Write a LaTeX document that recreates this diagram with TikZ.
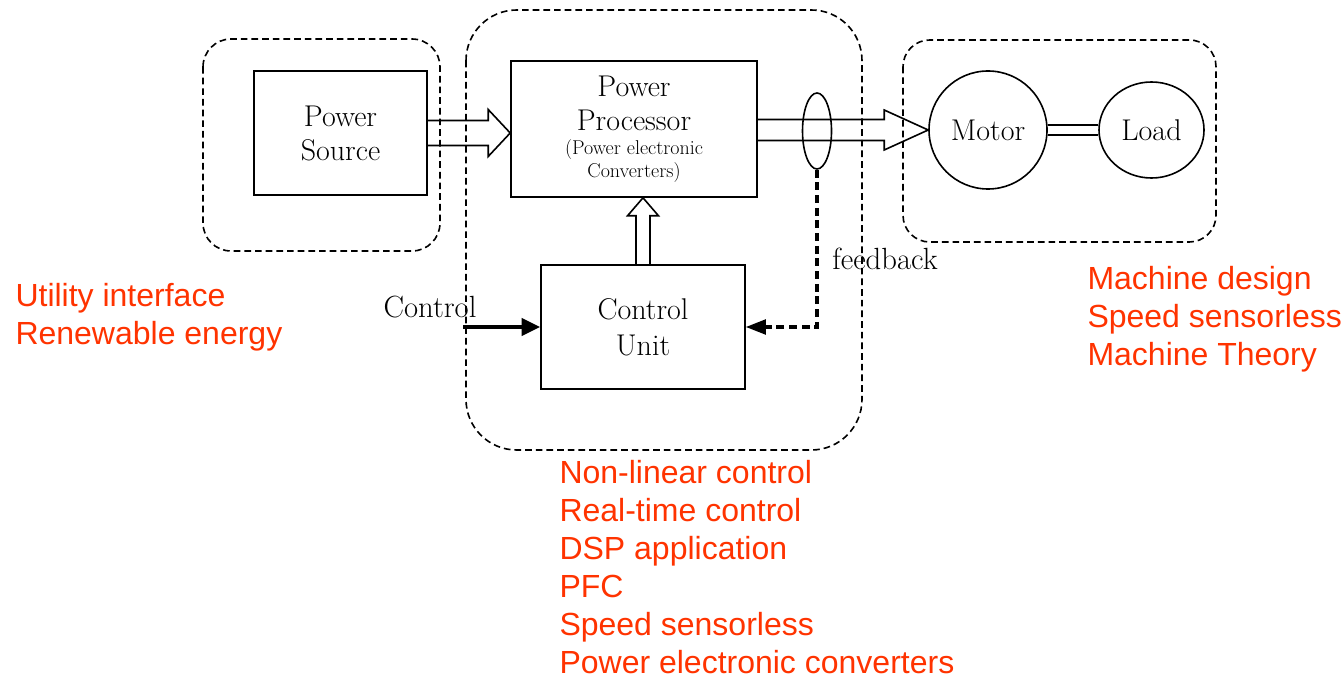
\documentclass[tikz,border=0pt]{standalone}
\usepackage{fontspec}
\newfontfamily\notefont{Liberation Sans}
\usetikzlibrary{calc,shapes.geometric,arrows.meta}

\definecolor{notered}{RGB}{255,51,0}

\tikzset{every picture/.style={line width=0.75pt}}
\tikzset{
  blockbox/.style={draw,line width=1.2pt,inner sep=0pt,align=center,font=\fontsize{22.5}{25.5}\selectfont},
  groupline/.style={dash pattern=on 5pt off 3pt,line width=1.2pt},
  fat/.style={line width=1.2pt,line join=miter},
  fbline/.style={line width=2.3pt,dash pattern=on 6pt off 3.5pt,-{Triangle[length=15pt,width=11pt]}},
  ctrlline/.style={line width=2.6pt,-{Triangle[length=14pt,width=13pt]}},
  notes/.style={anchor=base west,align=left,text=notered,inner sep=0pt,font=\notefont\fontsize{24}{28.5}\selectfont},
  lbl/.style={inner sep=0.75pt,font=\fontsize{23}{25.5}\selectfont}
}

\begin{document}
\begin{tikzpicture}[x=0.75pt,y=0.75pt,yscale=-1,xscale=1]
\useasboundingbox (0,0) rectangle (1344,680);

%Shape: Rounded Rect [groups]
\draw[groupline,rounded corners=21pt] (203,39) rectangle (440,251);
\draw[groupline,rounded corners=38pt] (466,10) rectangle (862,450);
\draw[groupline,rounded corners=20pt] (903,40) rectangle (1216,242);

%Blocks
\node[blockbox,minimum width=129.75pt,minimum height=93pt] (ps) at (340.5,133) {Power\\Source};
\node[blockbox,minimum width=184.5pt,minimum height=102pt] (pp) at (634,129) {Power\\Processor\\[-7.5pt]{\fontsize{15}{18}\selectfont (Power electronic}\\[-8pt]{\fontsize{15}{18}\selectfont Converters)}};
\node[blockbox,font=\fontsize{22.5}{27}\selectfont,minimum width=153pt,minimum height=93pt] (cu) at (643,327) {Control\\Unit};
\node[blockbox,circle,minimum size=88.5pt] (motor) at (988,130) {Motor};
\node[blockbox,ellipse,minimum width=78.75pt,minimum height=72pt] (load) at (1151.5,130) {Load};
\node[draw,ellipse,line width=1.2pt,inner sep=0pt,minimum width=21.75pt,minimum height=57pt] (sense) at (817,131) {};

%Shape: Fat arrows
\coordinate (tipA) at (ps.east -| pp.west);
\draw[fat] ($(ps.east)+(0,-12.5)$) -- ($(tipA)+(-22,-12.5)$) -- ($(tipA)+(-22,-23.5)$) -- (tipA) -- ($(tipA)+(-22,23.5)$) -- ($(tipA)+(-22,12.5)$) -- ($(ps.east)+(0,12.5)$);
\coordinate (tailB) at (pp.east |- motor.west);
\draw[fat] ($(tailB)+(0,-10.5)$) -- ($(motor.west)+(-44,-10.5)$) -- ($(motor.west)+(-44,-20)$) -- (motor.west) -- ($(motor.west)+(-44,20)$) -- ($(motor.west)+(-44,10.5)$) -- ($(tailB)+(0,10.5)$);
\coordinate (tipC) at (cu.north |- pp.south);
\draw[fat] ($(cu.north)+(-7,0)$) -- ($(tipC)+(-7,18)$) -- ($(tipC)+(-15.5,18)$) -- (tipC) -- ($(tipC)+(15.5,18)$) -- ($(tipC)+(7,18)$) -- ($(cu.north)+(7,0)$);

%Shaft
\draw[line width=1.2pt,double distance=6pt] (motor) -- (load);

%Control and feedback
\coordinate (ctrlin) at (463,327);
\draw[ctrlline] (ctrlin) -- (ctrlin -| cu.west);
\draw[fbline] (sense.south) |- (cu.east);

\node[lbl] (ctrllbl) at (430,307) {Control};
\node[lbl] (fblbl) at (885,259) {feedback};

%Notes (base = last line)
\node[notes] (utility) at (15,345) {Utility interface\\Renewable energy};
\node[notes] (ctrlnotes) at (559,673) {Non-linear control\\Real-time control\\DSP application\\PFC\\Speed sensorless\\Power electronic converters};
\node[notes] (machnotes) at (1087,366) {Machine design\\Speed sensorless\\Machine Theory};

\end{tikzpicture}
\end{document}
